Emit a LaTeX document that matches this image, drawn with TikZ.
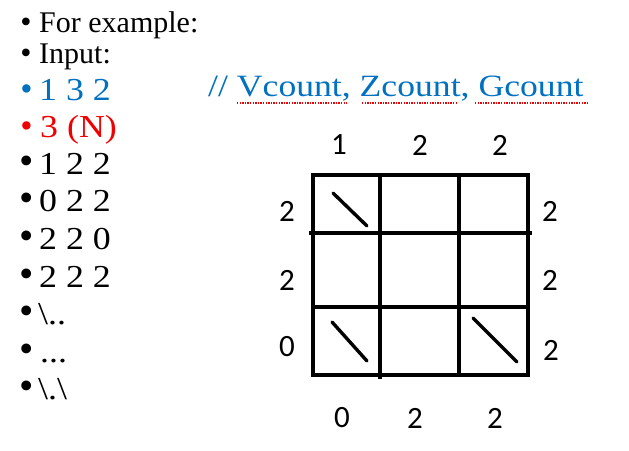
\documentclass[tikz,border=0pt]{standalone}
\usepackage{fontspec}
\setmainfont{Liberation Serif}
\newfontfamily\numfont{Carlito}
\newfontfamily\widefont{Liberation Serif}[FakeStretch=1.15]
\newfontfamily\listfont{Liberation Serif}[FakeStretch=1.12]
\newcommand\bdot{\smash{•}}
\definecolor{myblue}{RGB}{0,112,192}
\definecolor{myred}{RGB}{240,0,0}
\begin{document}
\begin{tikzpicture}[x=1pt,y=-1pt,
  line/.style={anchor=base west,inner sep=0pt,font=\fontsize{30}{30}\selectfont},
  item/.style={anchor=base west,inner sep=0pt,font=\listfont\fontsize{32}{32}\selectfont},
  topbul/.style={anchor=base,inner sep=0pt,font=\fontsize{32}{32}\selectfont},
  bul/.style={anchor=base,inner sep=0pt,font=\fontsize{35}{35}\selectfont},
  bigbul/.style={anchor=base,inner sep=0pt,font=\fontsize{41}{41}\selectfont},
  comment/.style={anchor=base west,inner sep=0pt,font=\widefont\fontsize{31}{31}\selectfont},
  num/.style={inner sep=0pt,font=\numfont\fontsize{31}{31}\selectfont},
  grid/.style={line width=4pt,line cap=rect},
  diag/.style={line width=3.4pt,line cap=round},
  squiggle/.style={myred,line width=1.2pt,dash pattern=on 1.3pt off 1.3pt}]
\useasboundingbox (0,0) rectangle (629,450);
% left list
\node[topbul] (b1) at (26,32) {\bdot};
\node[line] (t1) at (39,32) {For example:};
\node[topbul] (b2) at (26,63) {\bdot};
\node[line] (t2) at (39,63) {Input:};
\node[bul,myblue] (b3) at (26.5,100) {\bdot};
\node[item,myblue] (t3) at (39,100) {1 3 2};
\node[bul,myred] (b4) at (26.5,137) {\bdot};
\node[item,myred] (t4) at (40,137) {3 (N)};
\node[bigbul] (b5) at (26.5,174) {\bdot};
\node[item] (t5) at (39,174) {1 2 2};
\node[bigbul] (b6) at (26.5,211) {\bdot};
\node[item] (t6) at (39,211) {0 2 2};
\node[bigbul] (b7) at (26.5,249) {\bdot};
\node[item] (t7) at (39,249) {2 2 0};
\node[bigbul] (b8) at (26.5,287) {\bdot};
\node[item] (t8) at (39,287) {2 2 2};
\node[bigbul] (b9) at (26.5,324) {\bdot};
\node[item] (t9) at (38,324) {\textbackslash..};
\node[bigbul] (b10) at (26.5,362) {\bdot};
\node[item] (t10) at (40,362) {...};
\node[bigbul] (b11) at (26.5,399) {\bdot};
\node[item] (t11) at (38,399) {\textbackslash.\textbackslash};
% comment
\node[comment,myblue] (cm) at (208,96) {// Vcount, Zcount, Gcount};
\draw[squiggle] (237,103) -- (347,103);
\draw[squiggle] (362,103) -- (458,103);
\draw[squiggle] (475,103) -- (588,103);
% grid
\draw[grid] (313,175) -- (528,175);
\draw[grid] (311,233) -- (530,233);
\draw[grid] (313,307) -- (528,307);
\draw[grid] (313,375) -- (528,375);
\draw[grid] (313,175) -- (313,375);
\draw[grid] (380,175) -- (380,377);
\draw[grid] (459,175) -- (459,375);
\draw[grid] (528,175) -- (528,375);
% diagonals
\draw[diag] (333,193) -- (367,226);
\draw[diag] (332,322) -- (367,361);
\draw[diag] (473,318) -- (517,362);
% labels
\node[num] (c1) at (339,145) {1};
\node[num] (c2) at (420,145) {2};
\node[num] (c3) at (500,145) {2};
\node[num] (l1) at (287,211) {2};
\node[num] (l2) at (287,280) {2};
\node[num] (l3) at (287,347) {0};
\node[num] (r1) at (550,211) {2};
\node[num] (r2) at (550,280) {2};
\node[num] (r3) at (551,350) {2};
\node[num] (d1) at (342,418) {0};
\node[num] (d2) at (415,418) {2};
\node[num] (d3) at (495,418) {2};
\end{tikzpicture}
\end{document}
